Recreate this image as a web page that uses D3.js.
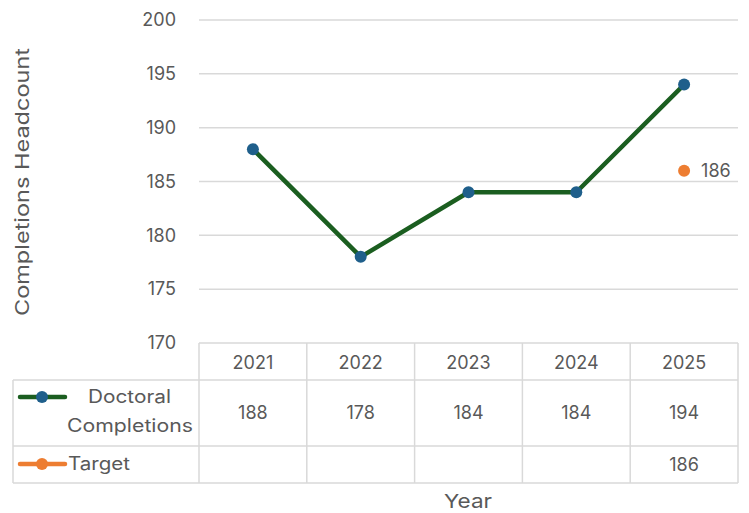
<!DOCTYPE html>
<html>
<head>
<meta charset="utf-8">
<script src="https://cdn.jsdelivr.net/npm/d3@7"></script>
<style>
  html, body { margin: 0; padding: 0; background: #fff; }
  svg { display: block; font-family: "Inter", "Noto Sans", sans-serif; }
</style>
</head>
<body>
<svg id="chart" width="749" height="513"></svg>
<script>
// Chart data
const years = ["2021", "2022", "2023", "2024", "2025"];
const completions = [188, 178, 184, 184, 194];
const target = [null, null, null, null, 186];
const yTicks = [170, 175, 180, 185, 190, 195, 200];
const seriesNames = ["Doctoral Completions", "Target"];

const svg = d3.select("#chart");
const textColor = "#595959";
const gridColor = "#d9d9d9";
const lineColor = "#1b5e20";
const markerColor = "#1f5f8b";
const targetColor = "#ed7d31";
const numSize = 18;

const plot = { left: 199, right: 738, top: 20, bottom: 343 };
const x = d3.scaleBand().domain(years).range([plot.left, plot.right]);
const y = d3.scaleLinear().domain([170, 200]).range([plot.bottom, plot.top]);

// Word labels are stretched to a fixed width so the wide geometric look is kept
function wordLabel(sel, width) {
  return sel.attr("textLength", width).attr("lengthAdjust", "spacingAndGlyphs");
}

// Horizontal gridlines
svg.append("g").selectAll("line").data(yTicks).join("line")
  .attr("x1", plot.left).attr("x2", plot.right)
  .attr("y1", d => y(d)).attr("y2", d => y(d))
  .attr("stroke", gridColor).attr("stroke-width", 1.5);

// Y tick labels
svg.append("g").selectAll("text").data(yTicks).join("text")
  .attr("x", 176).attr("y", d => y(d))
  .attr("dy", "0.35em").attr("text-anchor", "end")
  .attr("font-size", numSize).attr("fill", textColor)
  .text(d => d);

// Y axis title
wordLabel(svg.append("text")
  .attr("transform", `translate(29,182) rotate(-90)`)
  .attr("text-anchor", "middle").attr("font-size", 19).attr("fill", textColor)
  .text("Completions Headcount"), 268);

// Completions line
const cx = d => x(d) + x.bandwidth() / 2;
const line = d3.line().x((d, i) => cx(years[i])).y(d => y(d));
svg.append("path").datum(completions)
  .attr("d", line).attr("fill", "none")
  .attr("stroke", lineColor).attr("stroke-width", 4.5)
  .attr("stroke-linejoin", "round");
svg.append("g").selectAll("circle").data(completions).join("circle")
  .attr("cx", (d, i) => cx(years[i])).attr("cy", d => y(d))
  .attr("r", 6).attr("fill", markerColor);

// Target point with label
const targetPts = target.map((v, i) => ({ v, year: years[i] })).filter(d => d.v != null);
svg.append("g").selectAll("circle").data(targetPts).join("circle")
  .attr("cx", d => cx(d.year)).attr("cy", d => y(d.v))
  .attr("r", 6).attr("fill", targetColor);
svg.append("g").selectAll("text").data(targetPts).join("text")
  .attr("x", d => cx(d.year) + 17).attr("y", d => y(d.v))
  .attr("dy", "0.35em").attr("font-size", numSize).attr("fill", textColor)
  .text(d => d.v);

// Data table below the plot
const rowTop = [343, 380, 446];
const rowBot = [380, 446, 483];
const tableLeft = 13;
const tbl = svg.append("g").attr("stroke", gridColor).attr("stroke-width", 1.5).attr("fill", "none");
const colEdges = years.map(d => x(d)).concat([plot.right]);
tbl.selectAll("line.v").data(colEdges).join("line").attr("class", "v")
  .attr("x1", d => d).attr("x2", d => d).attr("y1", rowTop[0]).attr("y2", rowBot[2]);
tbl.append("line").attr("x1", tableLeft).attr("x2", tableLeft).attr("y1", rowTop[1]).attr("y2", rowBot[2]);
tbl.append("line").attr("x1", tableLeft).attr("x2", plot.right).attr("y1", rowTop[1]).attr("y2", rowTop[1]);
tbl.append("line").attr("x1", tableLeft).attr("x2", plot.right).attr("y1", rowTop[2]).attr("y2", rowTop[2]);
tbl.append("line").attr("x1", tableLeft).attr("x2", plot.right).attr("y1", rowBot[2]).attr("y2", rowBot[2]);

// header year labels
svg.append("g").selectAll("text").data(years).join("text")
  .attr("x", d => cx(d)).attr("y", (rowTop[0] + rowBot[0]) / 2 + 1)
  .attr("dy", "0.35em").attr("text-anchor", "middle")
  .attr("font-size", numSize).attr("fill", textColor).text(d => d);

// completions values
svg.append("g").selectAll("text").data(completions).join("text")
  .attr("x", (d, i) => cx(years[i])).attr("y", (rowTop[1] + rowBot[1]) / 2)
  .attr("dy", "0.35em").attr("text-anchor", "middle")
  .attr("font-size", numSize).attr("fill", textColor).text(d => d);

// target values
svg.append("g").selectAll("text").data(targetPts).join("text")
  .attr("x", d => cx(d.year)).attr("y", (rowTop[2] + rowBot[2]) / 2)
  .attr("dy", "0.35em").attr("text-anchor", "middle")
  .attr("font-size", numSize).attr("fill", textColor).text(d => d.v);

// legend keys in the table
function legendKey(yPos, stroke, fill) {
  svg.append("line").attr("x1", 20).attr("x2", 65).attr("y1", yPos).attr("y2", yPos)
    .attr("stroke", stroke).attr("stroke-width", 4.5).attr("stroke-linecap", "round");
  svg.append("circle").attr("cx", 42).attr("cy", yPos).attr("r", 6).attr("fill", fill);
}
legendKey(397, lineColor, markerColor);
legendKey(464, targetColor, targetColor);

const nameParts = seriesNames[0].split(" ");
wordLabel(svg.append("text").attr("x", 88).attr("y", 397).attr("dy", "0.35em")
  .attr("font-size", 18).attr("fill", textColor).text(nameParts[0]), 83);
wordLabel(svg.append("text").attr("x", 67).attr("y", 426).attr("dy", "0.35em")
  .attr("font-size", 18).attr("fill", textColor).text(nameParts[1]), 126);
wordLabel(svg.append("text").attr("x", 68).attr("y", 464).attr("dy", "0.35em")
  .attr("font-size", 18).attr("fill", textColor).text(seriesNames[1]), 62);

// X axis title
wordLabel(svg.append("text").attr("x", 444).attr("y", 501)
  .attr("dy", "0.35em")
  .attr("font-size", 19).attr("fill", textColor).text("Year"), 48);
</script>
</body>
</html>
